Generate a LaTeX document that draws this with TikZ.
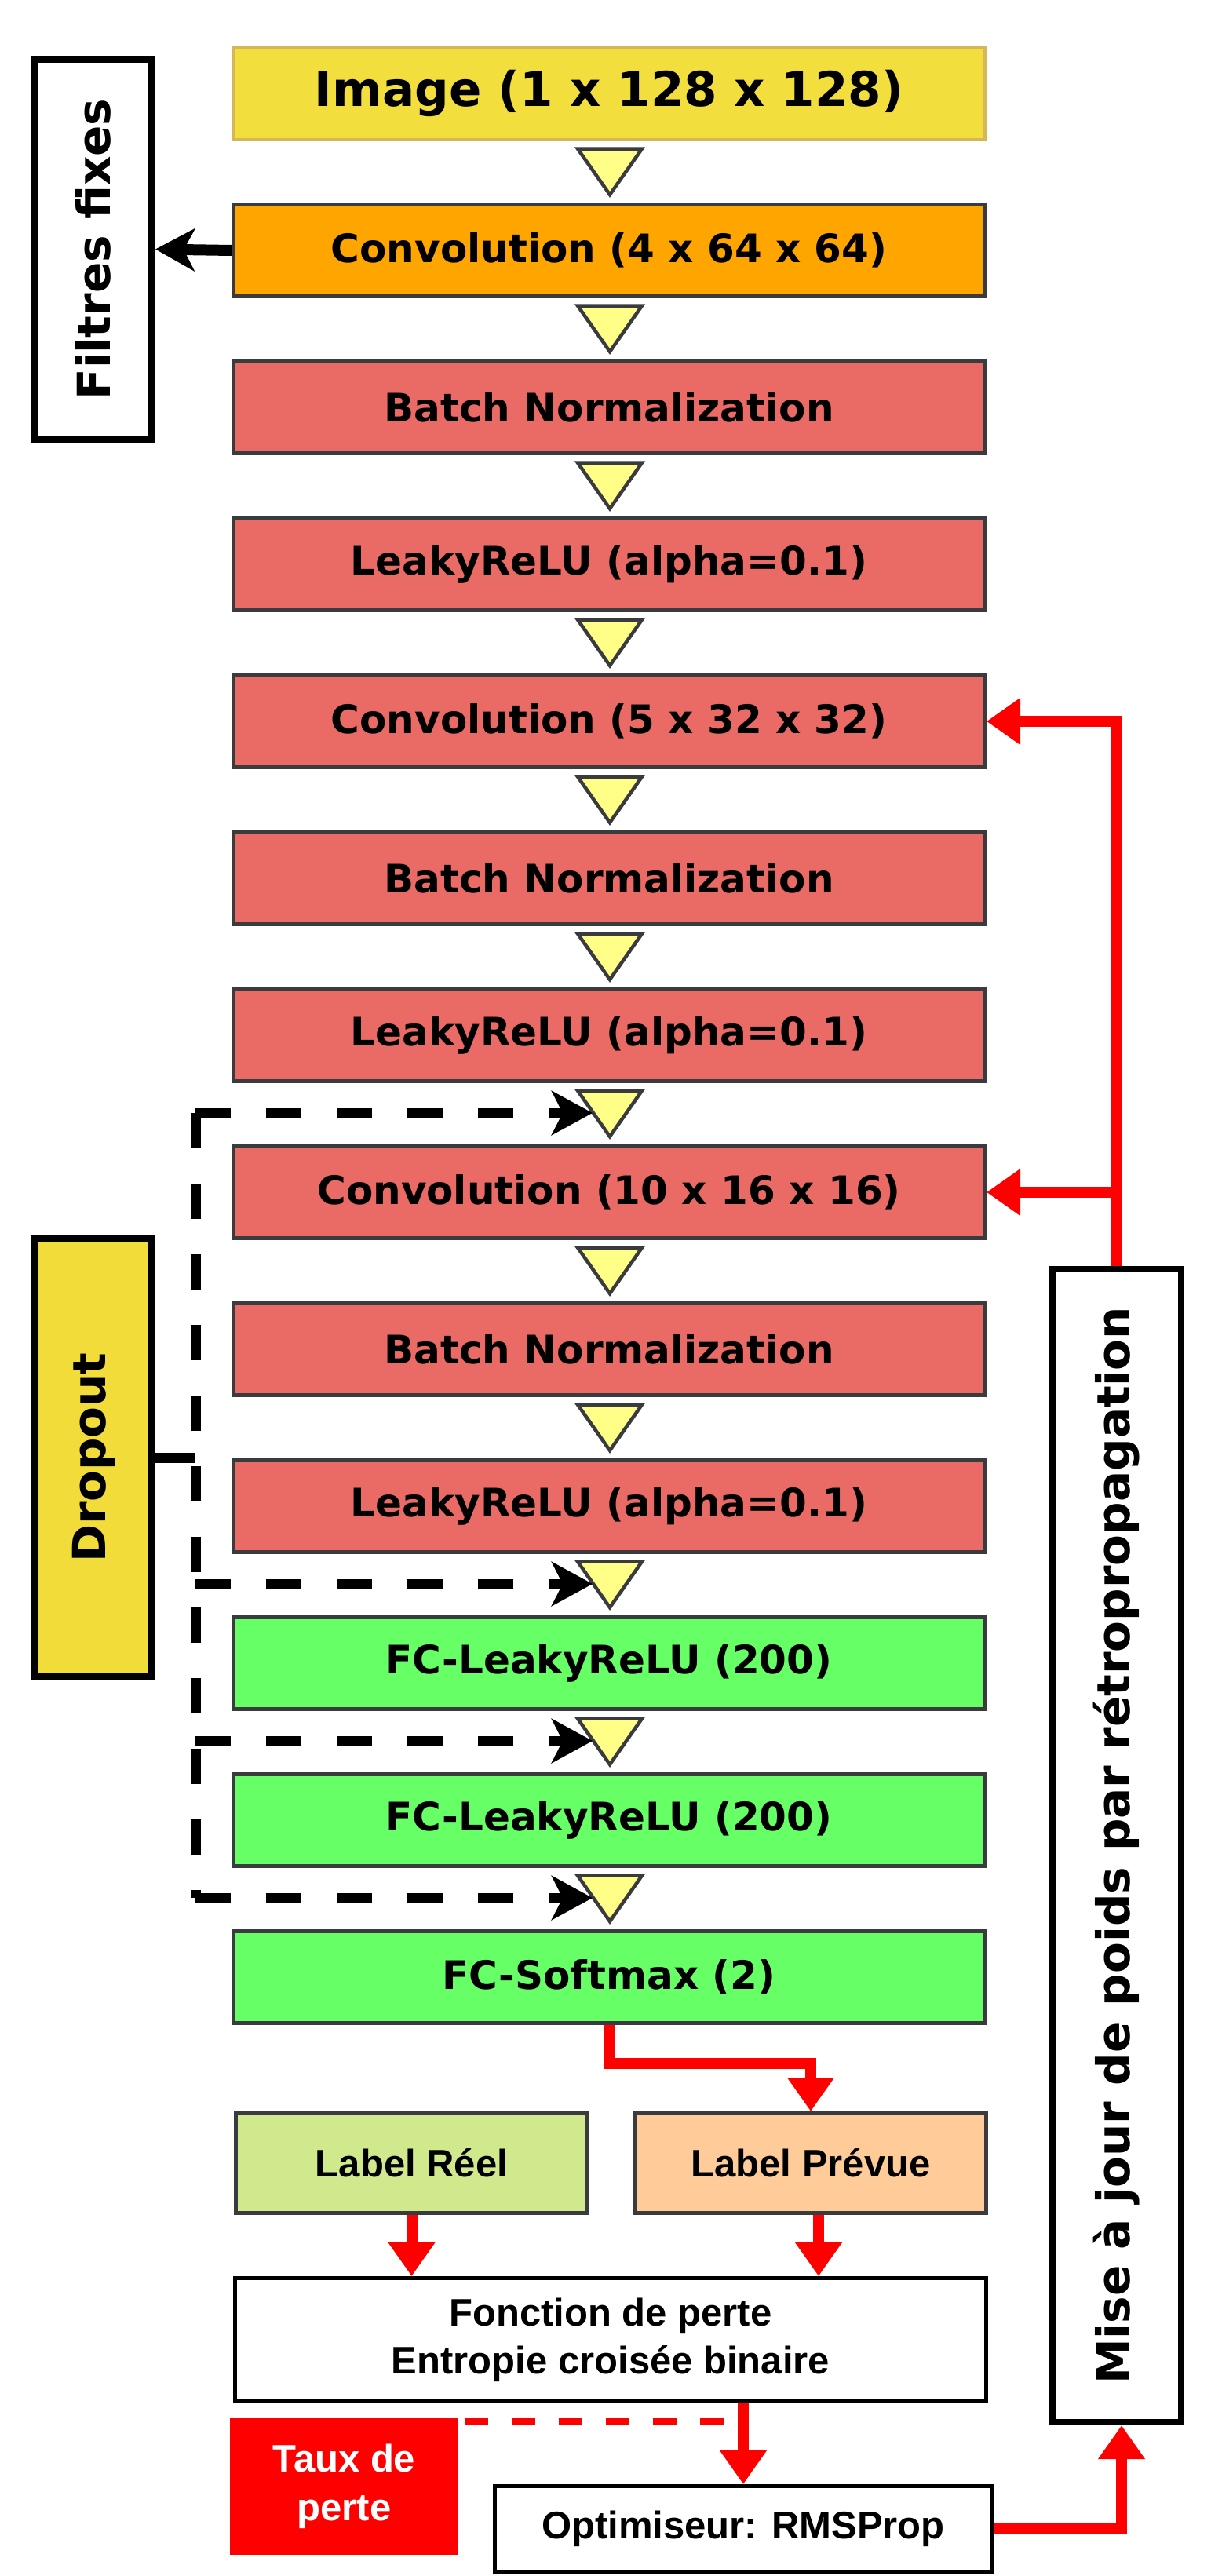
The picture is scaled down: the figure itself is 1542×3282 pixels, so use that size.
\documentclass[tikz,border=0pt]{standalone}
\usepackage{fontspec}
\setmainfont{DejaVu Sans}
\newfontfamily\libsans{Liberation Sans}
\usetikzlibrary{arrows.meta,calc}
\definecolor{boxred}{HTML}{EA6B66}
\definecolor{boxgreen}{HTML}{66FF66}
\definecolor{boxorange}{HTML}{FFA500}
\definecolor{imgyellow}{HTML}{F2DE3C}
\definecolor{imgborder}{HTML}{D6B656}
\definecolor{edgegray}{HTML}{393B3F}
\definecolor{triyellow}{HTML}{FFFF88}
\definecolor{reelgreen}{HTML}{CFE98C}
\definecolor{prevorange}{HTML}{FFCC99}
\definecolor{dropyellow}{HTML}{F2DC3A}
\definecolor{arrowred}{HTML}{FF0000}
\begin{document}
\begin{tikzpicture}[x=1pt,y=-1pt,
  layer/.style={draw=edgegray, line width=5pt, minimum width=957pt, minimum height=117pt,
    inner sep=0pt, font=\fontsize{50}{60}\selectfont\bfseries},
  sidebox/.style={draw=black, line width=9pt, rotate=90, inner sep=0pt,
    font=\fontsize{58}{70}\selectfont\bfseries},
  lossbox/.style={line width=5pt, inner sep=0pt, align=center,
    font=\libsans\fontsize{49}{61}\selectfont\bfseries},
  tri/.style={draw=edgegray, fill=triyellow, line width=4.5pt, line join=miter},
  redarrow/.style={draw=arrowred, line width=14pt, -{Triangle[length=43pt,width=57pt]}},
  blackarrow/.style={draw=black, line width=14pt, -{Stealth[length=50pt,width=54pt,inset=14pt]}},
  dasharrow/.style={draw=black, line width=13pt, dash pattern=on 45pt off 45pt,
    -{Stealth[length=52pt,width=56pt,inset=14pt]}},
  dashline/.style={draw=black, line width=13pt, dash pattern=on 45pt off 45pt}
]
\useasboundingbox (0,0) rectangle (1542,3282);

% main column
\node[layer, fill=imgyellow, draw=imgborder, line width=4pt, font=\fontsize{61}{70}\selectfont\bfseries] (img) at (776,119) {Image (1 x 128 x 128)};
\node[layer, fill=boxorange] (conv1) at (776,319) {Convolution (4 x 64 x 64)};
\node[layer, fill=boxred] (bn1) at (776,519) {Batch Normalization};
\node[layer, fill=boxred] (lr1) at (776,719) {LeakyReLU (alpha=0.1)};
\node[layer, fill=boxred] (conv2) at (776,919) {Convolution (5 x 32 x 32)};
\node[layer, fill=boxred] (bn2) at (776,1119) {Batch Normalization};
\node[layer, fill=boxred] (lr2) at (776,1319) {LeakyReLU (alpha=0.1)};
\node[layer, fill=boxred] (conv3) at (776,1519) {Convolution (10 x 16 x 16)};
\node[layer, fill=boxred] (bn3) at (776,1719) {Batch Normalization};
\node[layer, fill=boxred] (lr3) at (776,1919) {LeakyReLU (alpha=0.1)};
\node[layer, fill=boxgreen] (fc1) at (776,2119) {FC-LeakyReLU (200)};
\node[layer, fill=boxgreen] (fc2) at (776,2319) {FC-LeakyReLU (200)};
\node[layer, fill=boxgreen] (fcs) at (776,2519) {FC-Softmax (2)};

% triangles between layers
\foreach \i in {0,...,11}{
  \draw[tri] (736,{189.5+200*\i}) -- (818,{189.5+200*\i}) -- (777,{248+200*\i}) -- cycle;
}

% side boxes
\node[sidebox, minimum width=484pt, minimum height=149pt] (filt) at (119,317.5) {Filtres fixes};
\node[sidebox, fill=dropyellow, minimum width=559pt, minimum height=149pt] (drop) at (119,1857) {Dropout};
\node[sidebox, line width=8pt, minimum width=1469pt, minimum height=164pt] (mise) at (1423,2351.5) {Mise à jour de poids par rétropropagation};

% loss part
\node[lossbox, draw=edgegray, fill=reelgreen, minimum width=448pt, minimum height=127pt] (reel) at (524.5,2756) {Label Réel};
\node[lossbox, draw=edgegray, fill=prevorange, minimum width=447pt, minimum height=127pt] (prevue) at (1033,2756) {Label Prévue};
\node[lossbox, draw=black, fill=white, minimum width=957pt, minimum height=157pt] (fonc) at (778,2981) {Fonction de perte\\Entropie croisée binaire};
\node[lossbox, fill=arrowred, text=white, minimum width=291pt, minimum height=174pt, font=\libsans\fontsize{49}{62}\selectfont\bfseries] (taux) at (438.5,3168) {Taux de\\perte};
\node[lossbox, draw=black, fill=white, minimum width=633pt, minimum height=109pt] (optim) at (947,3222) {Optimiseur: RMSProp};

% fixed filters arrow
\draw[blackarrow] (conv1.west) -- (filt.south);

% dropout dashed connectors
\coordinate (vt) at (249,1418);
\coordinate (vb) at (249,2418);
\coordinate (t6) at (755,1418);
\coordinate (t9) at (755,2018);
\coordinate (t10) at (755,2218);
\coordinate (t11) at (755,2418);
\draw[dashline] (vt) -- (vb);
\draw[dasharrow] (vt) -- (t6);
\draw[dasharrow] (vt |- t9) -- (t9);
\draw[dasharrow] (vt |- t10) -- (t10);
\draw[dasharrow] (vb) -- (t11);
\draw[draw=black, line width=13pt] (drop.south) -- (drop.south -| vt);

% back-propagation arrows
\draw[redarrow] (mise.east) |- (conv2.east);
\draw[redarrow] (mise.east |- conv3.east) -- (conv3.east);

% loss arrows
\draw[redarrow] (fcs.south) -- ++(0,48.5) -| (prevue.north);
\draw[redarrow] (reel.south) -- (reel.south |- fonc.north);
\draw[redarrow] ([xshift=10pt]prevue.south) -- ([xshift=10pt]prevue.south |- fonc.north);
\draw[redarrow] (fonc.south -| optim.north) -- (optim.north);
\draw[redarrow] (optim.east) -| ([xshift=6pt]mise.west);
\draw[draw=arrowred, line width=9pt, dash pattern=on 30pt off 30pt] ([xshift=5pt,yshift=-7pt]taux.north east) -- ++(330,0);
\end{tikzpicture}
\end{document}
